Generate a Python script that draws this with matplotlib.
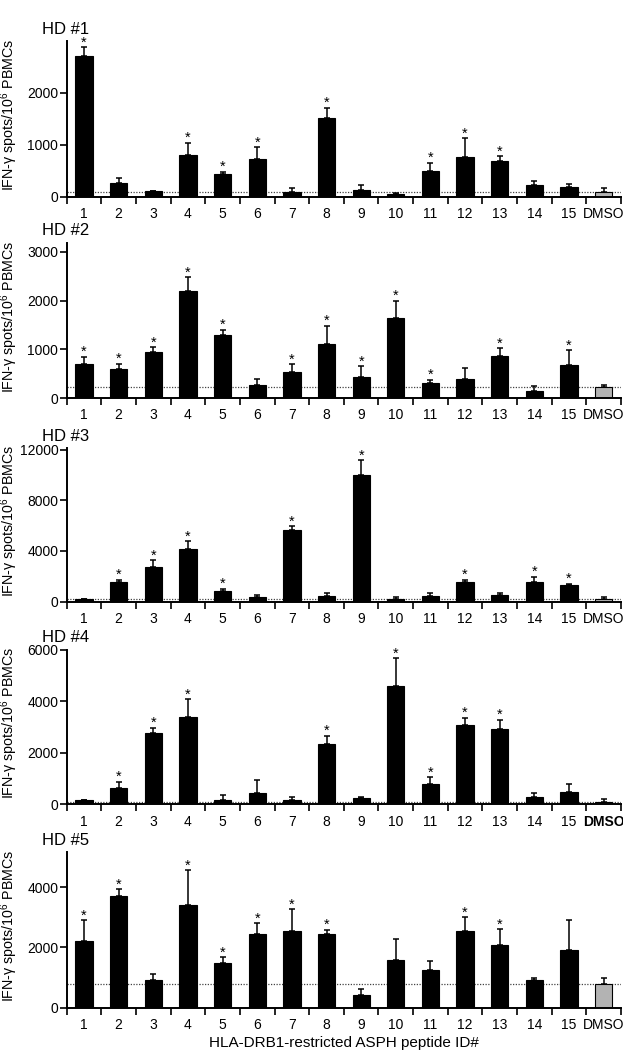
import numpy as np
import matplotlib
matplotlib.use("Agg")
import matplotlib.pyplot as plt

plt.rcParams['font.family'] = ['Liberation Sans', 'DejaVu Sans']
plt.rcParams['mathtext.default'] = 'regular'

labels = [str(i) for i in range(1, 16)] + ["DMSO"]

hd1_mean = [2720, 260, 105, 800, 445, 735, 97, 1520, 124, 45, 503, 762, 690, 226, 182, 97]
hd1_sem = [162, 102, 11, 239, 39, 213, 77, 190, 108, 27, 149, 368, 91, 84, 69, 65]
hd1_star = [1, 4, 5, 6, 8, 11, 12, 13]

hd2_mean = [698, 589, 938, 2197, 1287, 260, 527, 1109, 425, 1649, 315, 390, 856, 144, 678, 232]
hd2_sem = [150, 115, 109, 281, 116, 130, 165, 376, 232, 349, 65, 232, 164, 96, 308, 41]
hd2_star = [1, 2, 3, 4, 5, 7, 8, 9, 10, 11, 13, 15]

hd3_mean = [200, 1537, 2772, 4119, 871, 396, 5655, 451, 9980, 238, 475, 1560, 502, 1560, 1299, 214]
hd3_sem = [20, 206, 507, 633, 159, 158, 286, 214, 1188, 158, 190, 159, 163, 396, 127, 134]
hd3_star = [2, 3, 4, 5, 7, 9, 12, 14, 15]

hd4_mean = [160, 627, 2757, 3396, 169, 455, 169, 2337, 235, 4612, 808, 3098, 2914, 286, 471, 95]
hd4_sem = [10, 259, 223, 682, 184, 498, 129, 330, 63, 1074, 251, 261, 380, 145, 313, 125]
hd4_star = [2, 3, 4, 8, 10, 11, 12, 13]

hd5_mean = [2219, 3709, 917, 3391, 1480, 2430, 2530, 2440, 411, 1570, 1258, 2540, 2086, 907, 1921, 795]
hd5_sem = [675, 221, 209, 1169, 189, 375, 728, 143, 218, 695, 278, 463, 520, 76, 973, 178]
hd5_star = [1, 2, 4, 5, 6, 7, 8, 12, 13]

panels = [
    ("HD #1", hd1_mean, hd1_sem, hd1_star, [0, 1000, 2000], 3000),
    ("HD #2", hd2_mean, hd2_sem, hd2_star, [0, 1000, 2000, 3000], 3190),
    ("HD #3", hd3_mean, hd3_sem, hd3_star, [0, 4000, 8000, 12000], 12100),
    ("HD #4", hd4_mean, hd4_sem, hd4_star, [0, 2000, 4000, 6000], 6000),
    ("HD #5", hd5_mean, hd5_sem, hd5_star, [0, 2000, 4000], 5150),
]

# axes boxes in pixels: (top, bottom)
boxes = [(41, 196.7), (242.7, 398), (448.3, 601.7), (650, 804.3), (852.3, 1007.7)]
W, H = 623, 1050
left_px, right_px = 66.7, 621

fig = plt.figure(figsize=(W / 100, H / 100), dpi=100)

for (title, mean, sem, stars, yt, ytop), (top, bot) in zip(panels, boxes):
    ax = fig.add_axes([left_px / W, 1 - bot / H, (right_px - left_px) / W, (bot - top) / H])
    x = np.arange(len(labels))
    colors = ['black'] * 15 + ['#b3b3b3']
    ax.bar(x, mean, width=0.5, color=colors, edgecolor='black', linewidth=0.8, zorder=2)
    ax.errorbar(x, mean, yerr=[np.zeros(len(sem)), sem], fmt='none', ecolor='black',
                elinewidth=1.1, capsize=2.4, capthick=1.1, zorder=3)
    ax.axhline(mean[-1], color='#444444', linestyle=(0, (1, 1.2)), linewidth=0.9, zorder=1)
    for s in stars:
        i = s - 1
        ax.annotate('*', (x[i], mean[i] + sem[i]), xytext=(0, 0.5), textcoords='offset points',
                    ha='center', va='baseline', fontsize=10.5)

    ax.set_xlim(-0.5, 15.5)
    ax.set_ylim(0, ytop)
    ax.set_yticks(yt)
    ax.set_yticklabels([str(v) for v in yt], fontsize=10)
    ax.tick_params(axis='y', length=5, width=1.2, pad=1)
    ax.set_xticks(x)
    ax.set_xticklabels(labels, fontsize=10)
    ax.set_xticks(np.arange(-0.5, 16, 1), minor=True)
    ax.tick_params(axis='x', which='major', length=0, pad=7.5)
    ax.tick_params(axis='x', which='minor', length=5, width=1.2)
    if title == "HD #4":
        ax.get_xticklabels()[-1].set_fontweight('bold')

    for side in ['top', 'right']:
        ax.spines[side].set_visible(False)
    for side in ['left', 'bottom']:
        ax.spines[side].set_linewidth(1.4)

    fig.text(41.7 / W, 1 - (top - 12) / H, title, fontsize=12, ha='left', va='center')
    fig.text(9.5 / W, 1 - ((top + bot) / 2 - 4) / H, r'IFN-γ spots/10$^{6}$ PBMCs',
             rotation=90, ha='center', va='center', fontsize=10.3)
    if title == "HD #5":
        ax.set_xlabel('HLA-DRB1-restricted ASPH peptide ID#', fontsize=11, labelpad=3)

fig.savefig('out.png', dpi=100)
